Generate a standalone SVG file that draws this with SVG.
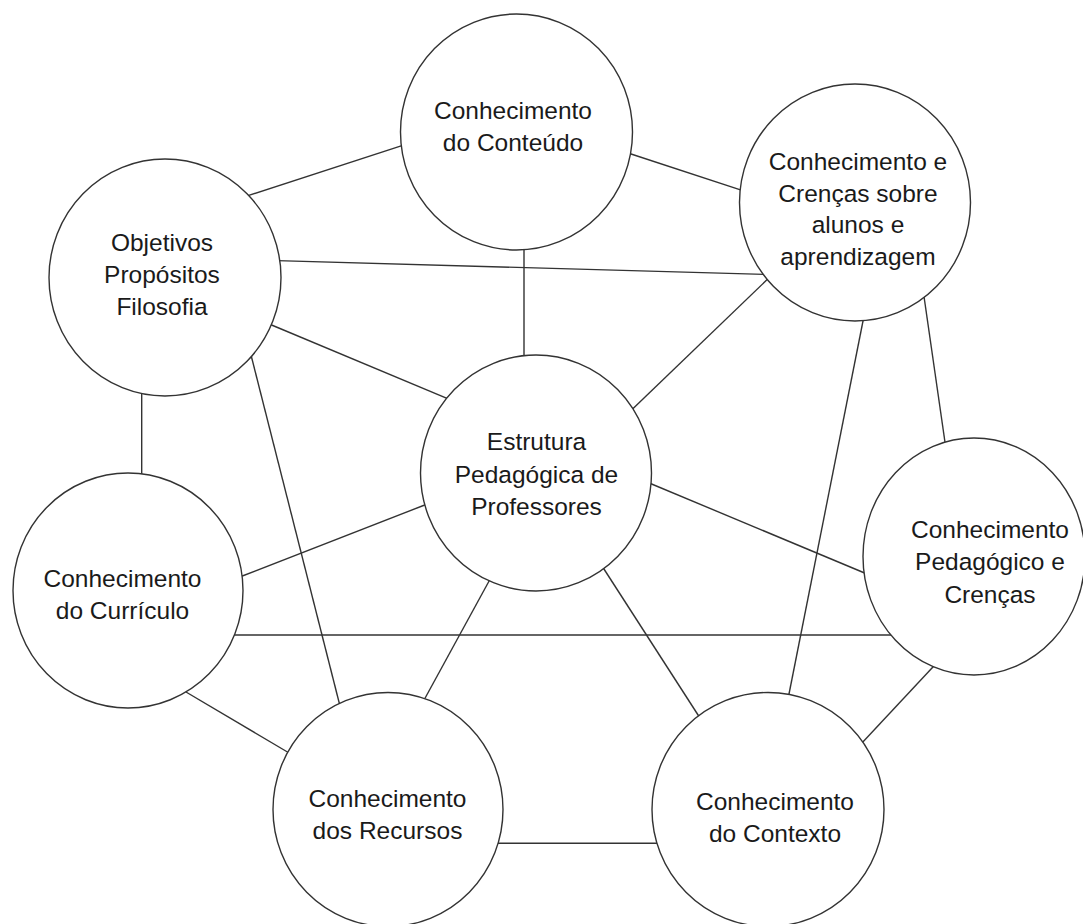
<svg xmlns="http://www.w3.org/2000/svg" width="1083" height="924" viewBox="0 0 1083 924">
  <style>
    .edge { stroke: #333333; stroke-width: 1.4; fill: none; }
    .node { fill: #ffffff; stroke: #333333; stroke-width: 1.4; }
    .label { font-family: "Liberation Sans", Arial, sans-serif; font-size: 24.5px; fill: #1a1a1a; text-anchor: middle; }
  </style>
  <rect x="0" y="0" width="1083" height="924" fill="#ffffff"/>

  <!-- connectors, drawn first so the node fills hide their ends -->
  <g id="connectors">
    <line class="edge" x1="405" y1="144.6" x2="248" y2="195.7"/>
    <line class="edge" x1="628" y1="153" x2="742" y2="190.3"/>
    <line class="edge" x1="277" y1="260.6" x2="766" y2="274.4"/>
    <line class="edge" x1="524" y1="245" x2="524" y2="358"/>
    <line class="edge" x1="268" y1="323.5" x2="450" y2="399.7"/>
    <line class="edge" x1="769" y1="277.8" x2="630.5" y2="411"/>
    <line class="edge" x1="141.7" y1="392" x2="141.7" y2="476"/>
    <line class="edge" x1="251" y1="355" x2="340" y2="706"/>
    <line class="edge" x1="923.5" y1="293" x2="945.4" y2="445"/>
    <line class="edge" x1="863.8" y1="317" x2="788.4" y2="697"/>
    <line class="edge" x1="648" y1="482.5" x2="867" y2="574"/>
    <line class="edge" x1="426" y1="504.5" x2="241" y2="576.5"/>
    <line class="edge" x1="233" y1="635" x2="894" y2="635"/>
    <line class="edge" x1="491" y1="577.5" x2="423.5" y2="701"/>
    <line class="edge" x1="602" y1="566" x2="700" y2="718"/>
    <line class="edge" x1="186" y1="692" x2="290" y2="753.5"/>
    <line class="edge" x1="935.5" y1="664.3" x2="861" y2="744"/>
    <line class="edge" x1="498" y1="843.3" x2="657" y2="843.3"/>
  </g>

  <g id="conteudo">
    <ellipse class="node" cx="516.5" cy="132" rx="116" ry="118"/>
    <text class="label" x="513" y="119">Conhecimento</text>
    <text class="label" x="513" y="151">do Conteúdo</text>
  </g>

  <g id="alunos">
    <ellipse class="node" cx="855" cy="202.5" rx="115.5" ry="118.5"/>
    <text class="label" x="858" y="170">Conhecimento e</text>
    <text class="label" x="858" y="201.7">Crenças sobre</text>
    <text class="label" x="858" y="233.4">alunos e</text>
    <text class="label" x="858" y="265">aprendizagem</text>
  </g>

  <g id="objetivos">
    <ellipse class="node" cx="165" cy="277.5" rx="116" ry="118.5"/>
    <text class="label" x="162" y="250.5">Objetivos</text>
    <text class="label" x="162" y="282.5">Propósitos</text>
    <text class="label" x="162" y="314.5">Filosofia</text>
  </g>

  <g id="estrutura">
    <ellipse class="node" cx="536" cy="473" rx="115.5" ry="118"/>
    <text class="label" x="536.5" y="450">Estrutura</text>
    <text class="label" x="536.5" y="482.5">Pedagógica de</text>
    <text class="label" x="536.5" y="515">Professores</text>
  </g>

  <g id="pedagogico">
    <ellipse class="node" cx="974" cy="556.5" rx="111" ry="118.5"/>
    <text class="label" x="990" y="538.3">Conhecimento</text>
    <text class="label" x="990" y="570">Pedagógico e</text>
    <text class="label" x="990" y="602.5">Crenças</text>
  </g>

  <g id="curriculo">
    <ellipse class="node" cx="128" cy="590.5" rx="115" ry="117.5"/>
    <text class="label" x="122.5" y="586.7">Conhecimento</text>
    <text class="label" x="122.5" y="619">do Currículo</text>
  </g>

  <g id="recursos">
    <ellipse class="node" cx="388" cy="809.5" rx="115" ry="117"/>
    <text class="label" x="387.5" y="806.7">Conhecimento</text>
    <text class="label" x="387.5" y="839">dos Recursos</text>
  </g>

  <g id="contexto">
    <ellipse class="node" cx="768" cy="809.5" rx="116" ry="117"/>
    <text class="label" x="775" y="810">Conhecimento</text>
    <text class="label" x="775" y="841.7">do Contexto</text>
  </g>
</svg>
